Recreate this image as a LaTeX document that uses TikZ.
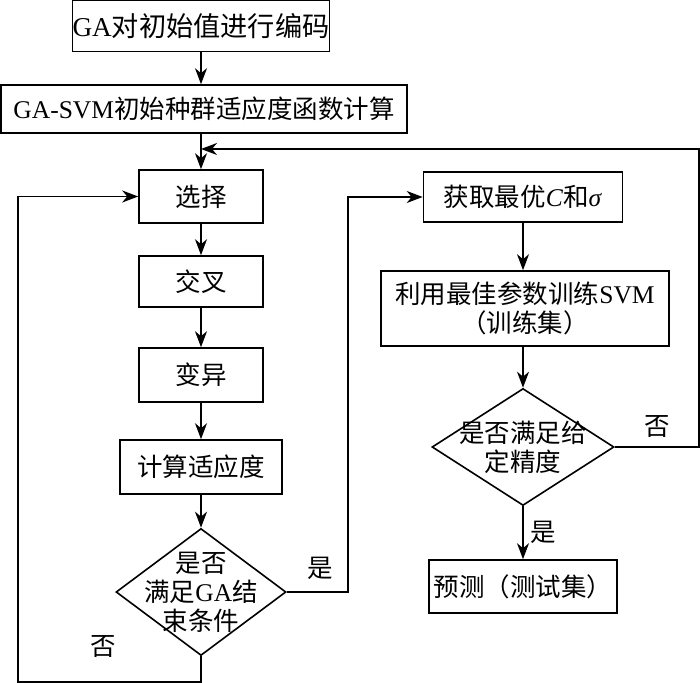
\documentclass[tikz,border=0pt]{standalone}
\usepackage{fontspec}
\setmainfont{Liberation Serif}
\newfontfamily\cjk{Noto Sans CJK SC}
\usetikzlibrary{arrows.meta,shapes.geometric}

\begin{document}
\begin{tikzpicture}[x=0.5pt, y=-0.5pt, line width=0.8pt, >={Stealth[length=8pt,width=6pt,inset=2.5pt]},
  txt/.style={align=center, font=\cjk\fontsize{12.75}{14.5}\selectfont},
  box/.style={txt, draw, rectangle, inner sep=0pt},
  dia/.style={draw, diamond, inner sep=0pt}]
  \useasboundingbox (0,0) rectangle (700,683);
  % left column
  \node[box, minimum width=128.5pt, minimum height=25.5pt, font=\cjk\fontsize{13.6}{16}\selectfont] (enc) at (201,26) {\textrm{GA}对初始值进行编码};
  \node[box, minimum width=203pt, minimum height=24pt] (ini) at (204,109) {\textrm{GA-SVM}初始种群适应度函数计算};
  \node[box, minimum width=62pt, minimum height=26.5pt] (sel) at (201,196.5) {选择};
  \node[box, minimum width=62pt, minimum height=25.5pt] (crs) at (201,281.5) {交叉};
  \node[box, minimum width=62pt, minimum height=27pt] (mut) at (201,375) {变异};
  \node[box, minimum width=81pt, minimum height=27pt] (fit) at (201,467) {计算适应度};
  \node[dia, minimum width=85pt, minimum height=63.5pt,
    label={[txt]center:是否\\满足\textrm{GA}结\\束条件}] (end) at (201,592) {};
  % right column
  \node[box, minimum width=99.5pt, minimum height=25pt] (opt) at (523,197) {获取最优\textit{\textrm{C}}和\textit{\textrm{σ}}};
  \node[box, minimum width=144pt, minimum height=37.5pt] (trn) at (525,308.5) {利用最佳参数训练\textrm{SVM}\\（训练集）};
  \node[dia, minimum width=91pt, minimum height=58.5pt,
    label={[txt]center:是否满足给\\定精度}] (acc) at (523,447) {};
  \node[box, minimum width=94pt, minimum height=26.5pt] (pre) at (523,586.5) {预测（测试集）};
  % labels
  \node[txt] (yes1) at (320,568) {是};
  \node[txt] (no1) at (103,647) {否};
  \node[txt] (no2) at (657,427) {否};
  \coordinate (rt) at (699,149);
  \coordinate (lb) at (18,682);
  \coordinate (md) at (348,197);

  \path[->]
  (enc) edge (enc |- ini.north)
  (ini.south -| sel) edge (sel)
  (sel) edge (crs)
  (crs) edge (mut)
  (mut) edge (fit)
  (fit) edge (end)
  (opt) edge (opt |- trn.north)
  (trn.south -| acc) edge (acc)
  (acc) edge node [auto, txt] {是} (pre)
;
  \draw[->] (acc.east) -| (rt) -- (sel.north |- rt);
  \draw[->] (end.south) |- (lb) |- (sel.west);
  \draw[->] (end.east) -| (md) -- (opt.west);
\end{tikzpicture}
\end{document}
